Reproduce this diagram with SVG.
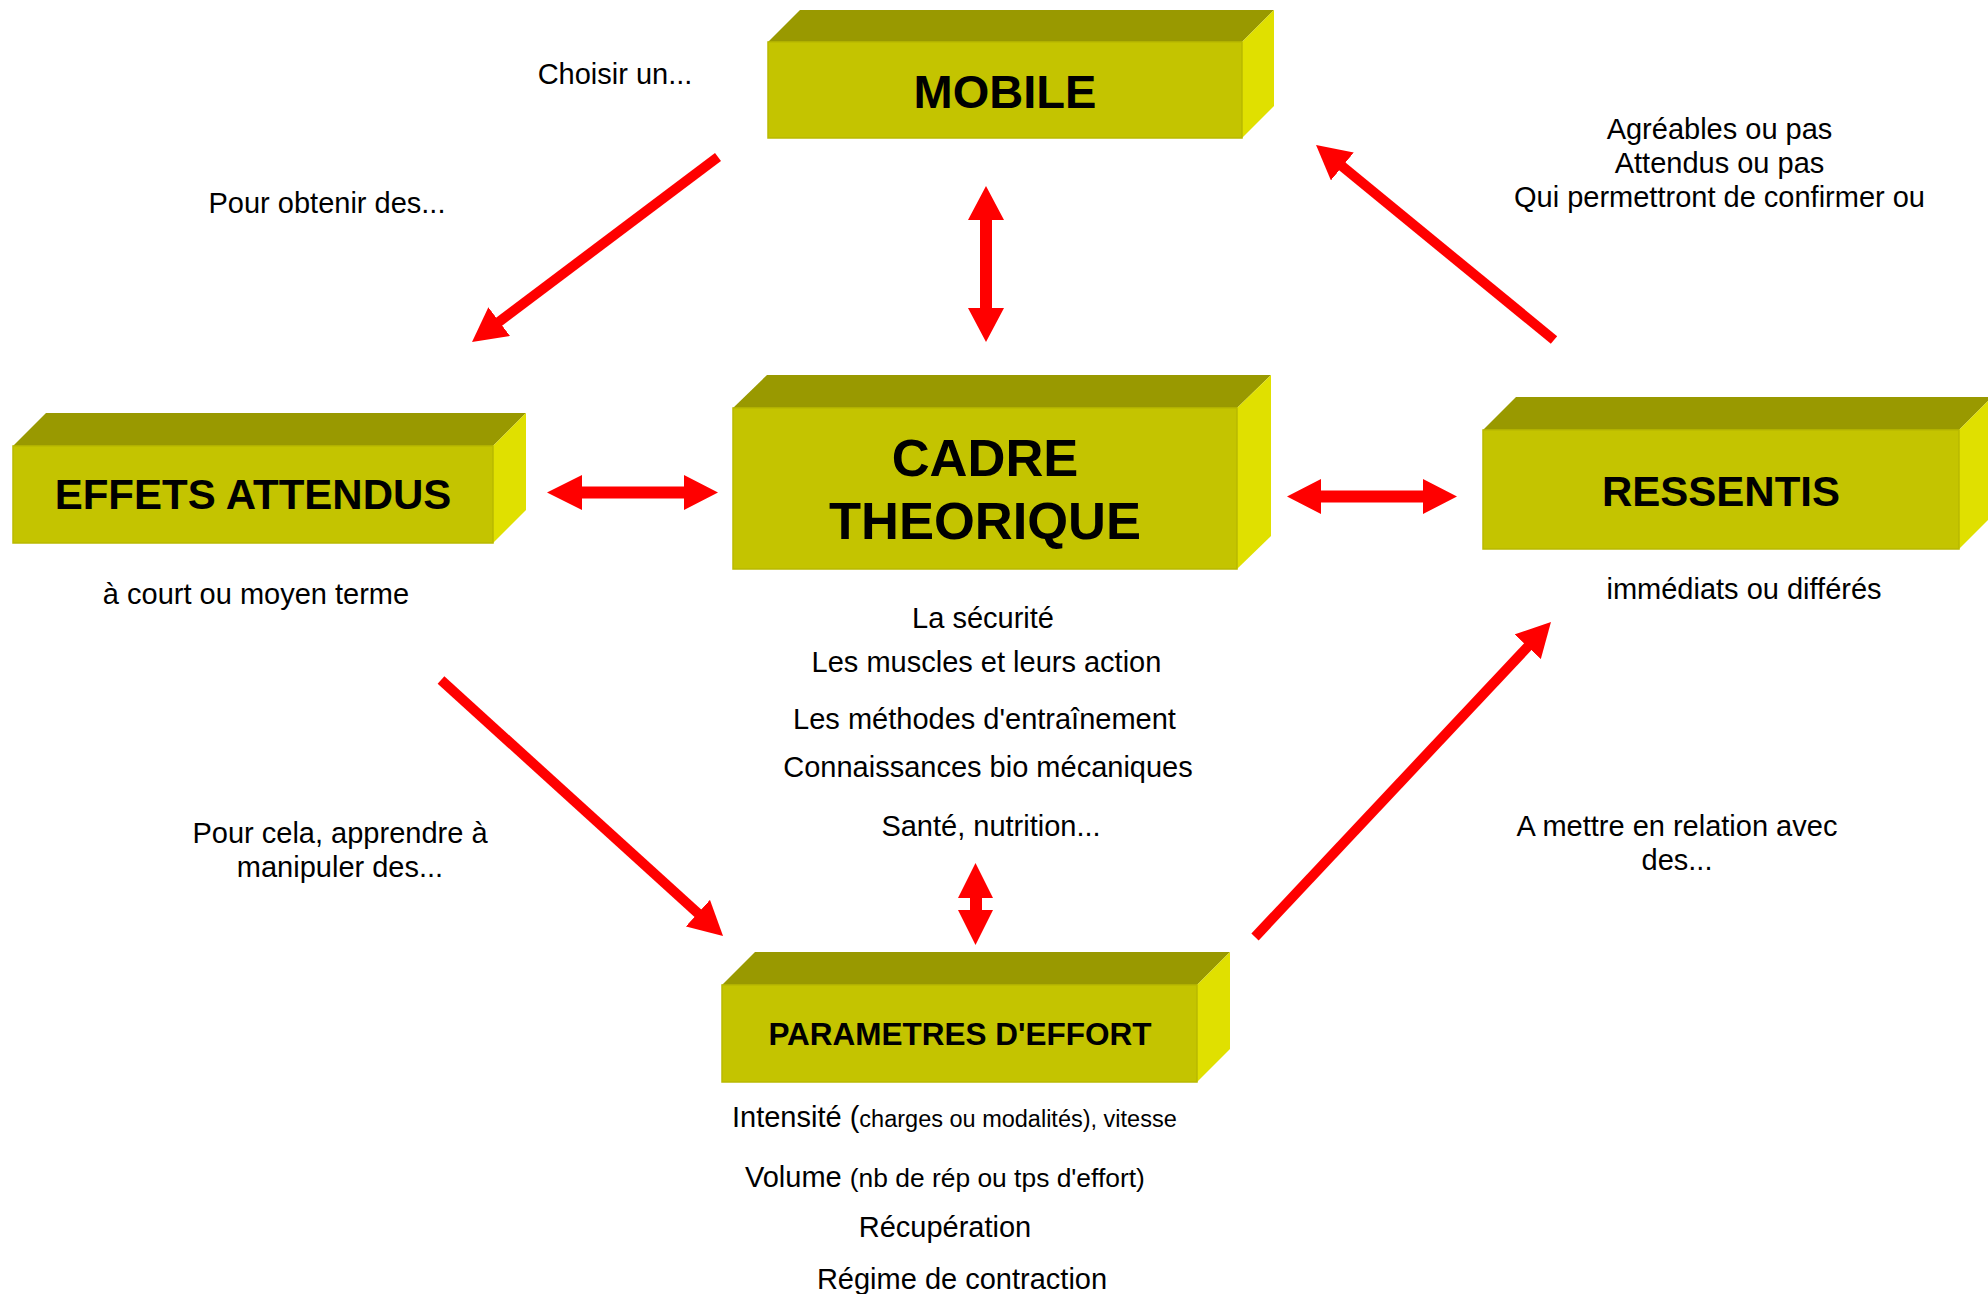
<svg xmlns="http://www.w3.org/2000/svg" width="1988" height="1294" viewBox="0 0 1988 1294">
<style>
.top{fill:#999900}
.front{fill:#C4C400;stroke:#B9B900;stroke-width:1.5}
.side{fill:#E0E000}
.nt{font-family:"Liberation Sans",Arial,sans-serif;font-weight:bold;fill:#000;text-anchor:middle}
.t{font-family:"Liberation Sans",Arial,sans-serif;font-size:29px;fill:#000;text-anchor:middle}
.tl{font-family:"Liberation Sans",Arial,sans-serif;font-size:29px;fill:#000}
.arr{stroke:#FF0000;stroke-width:10;fill:none}
.blk{fill:#FF0000}
</style>
<defs>
<marker id="ah" viewBox="0 0 34 36" markerWidth="34" markerHeight="36" markerUnits="userSpaceOnUse" refX="6" refY="18" orient="auto">
<path d="M0,0 L34,18 L0,36 z" fill="#FF0000"/>
</marker>
</defs>
<rect width="1988" height="1294" fill="#FFFFFF"/>

<g id="connectors">
<line class="arr" x1="718" y1="157" x2="494.4" y2="325.2" marker-end="url(#ah)"/>
<line class="arr" x1="441" y1="680" x2="702.3" y2="917.2" marker-end="url(#ah)"/>
<line class="arr" x1="1255" y1="937" x2="1531.8" y2="642.4" marker-end="url(#ah)"/>
<line class="arr" x1="1554" y1="340" x2="1337.7" y2="162.7" marker-end="url(#ah)"/>
<polygon class="blk" points="986,186 1004,220 992,220 992,308 1004,308 986,342 968,308 980,308 980,220 968,220"/>
<polygon class="blk" points="547,492.5 582,475 582,486.5 684,486.5 684,475 718,492.5 684,510 684,498.5 582,498.5 582,510"/>
<polygon class="blk" points="1287,496.5 1321,479 1321,490.5 1423,490.5 1423,479 1457,496.5 1423,514 1423,502.5 1321,502.5 1321,514"/>
<polygon class="blk" points="975.5,863 993,898 982,898 982,910 993,910 975.5,945 958,910 970,910 970,898 958,898"/>
</g>

<g id="mobile">
<polygon class="top" points="768,42 800,10 1274,10 1242,42"/>
<polygon class="side" points="1242,42 1274,10 1274,106 1242,138"/>
<rect class="front" x="768" y="42" width="474" height="96"/>
<text class="nt" x="1005" y="108" font-size="47">MOBILE</text>
</g>

<g id="effets">
<polygon class="top" points="13,446 46,413 526,413 493,446"/>
<polygon class="side" points="493,446 526,413 526,510 493,543"/>
<rect class="front" x="13" y="446" width="480" height="97"/>
<text class="nt" x="253" y="509" font-size="42">EFFETS ATTENDUS</text>
</g>

<g id="cadre">
<polygon class="top" points="733,408 767,375 1271,375 1237,408"/>
<polygon class="side" points="1237,408 1271,375 1271,536 1237,569"/>
<rect class="front" x="733" y="408" width="504" height="161"/>
<text class="nt" x="985" y="476" font-size="52.5">CADRE</text>
<text class="nt" x="985" y="539" font-size="52.5">THEORIQUE</text>
</g>

<g id="ressentis">
<polygon class="top" points="1483,430 1516,397 1992,397 1959,430"/>
<polygon class="side" points="1959,430 1992,397 1992,516 1959,549"/>
<rect class="front" x="1483" y="430" width="476" height="119"/>
<text class="nt" x="1721" y="506" font-size="42">RESSENTIS</text>
</g>

<g id="parametres">
<polygon class="top" points="722,985 755,952 1230,952 1197,985"/>
<polygon class="side" points="1197,985 1230,952 1230,1049 1197,1082"/>
<rect class="front" x="722" y="985" width="475" height="97"/>
<text class="nt" x="960" y="1045" font-size="31.5">PARAMETRES D'EFFORT</text>
</g>

<g id="labels">
<text class="t" x="615" y="84">Choisir un...</text>
<text class="t" x="327" y="213">Pour obtenir des...</text>
<text class="t" x="256" y="604">à court ou moyen terme</text>
<text class="t" x="340" y="843">Pour cela, apprendre à</text>
<text class="t" x="340" y="877">manipuler des...</text>
<text class="t" x="1719.5" y="139">Agréables ou pas</text>
<text class="t" x="1719.5" y="173">Attendus ou pas</text>
<text class="t" x="1719.5" y="207">Qui permettront de confirmer ou</text>
<text class="t" x="1744" y="599">immédiats ou différés</text>
<text class="t" x="1677" y="836">A mettre en relation avec</text>
<text class="t" x="1677" y="870">des...</text>
</g>

<g id="cadre-items">
<text class="t" x="983" y="628">La sécurité</text>
<text class="t" x="986.5" y="672">Les muscles et leurs action</text>
<text class="t" x="984.5" y="729">Les méthodes d'entraînement</text>
<text class="t" x="988" y="777">Connaissances bio mécaniques</text>
<text class="t" x="991" y="836">Santé, nutrition...</text>
</g>

<g id="parametres-items">
<text class="tl" x="732" y="1127">Intensité (<tspan font-size="23.5">charges ou modalités), vitesse</tspan></text>
<text class="tl" x="745" y="1187">Volume <tspan font-size="26.4">(nb de rép ou tps d'effort)</tspan></text>
<text class="t" x="945" y="1237">Récupération</text>
<text class="t" x="962" y="1289">Régime de contraction</text>
</g>
</svg>
